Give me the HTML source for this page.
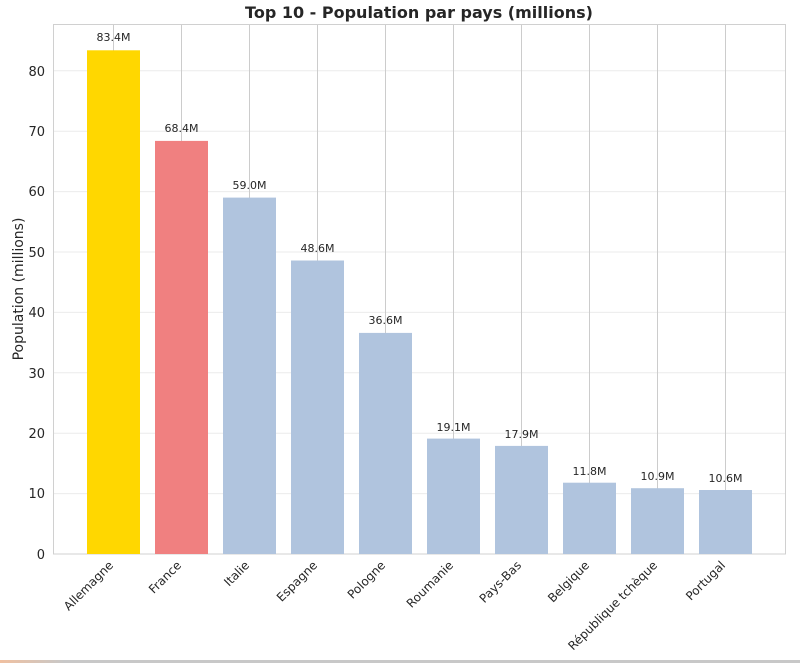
<!DOCTYPE html>
<html><head><meta charset="utf-8"><style>body{margin:0;background:#fff}svg{display:block}text{font-family:"DejaVu Sans","Liberation Sans",sans-serif}</style></head>
<body>
<svg width="800" height="663" xmlns="http://www.w3.org/2000/svg">
<rect width="800" height="663" fill="#fff"/>
<g stroke="#ebebeb" stroke-width="1">
<line x1="53" x2="786" y1="493.6" y2="493.6"/><line x1="53" x2="786" y1="433.2" y2="433.2"/><line x1="53" x2="786" y1="372.8" y2="372.8"/><line x1="53" x2="786" y1="312.4" y2="312.4"/><line x1="53" x2="786" y1="252" y2="252"/><line x1="53" x2="786" y1="191.6" y2="191.6"/><line x1="53" x2="786" y1="131.2" y2="131.2"/><line x1="53" x2="786" y1="70.8" y2="70.8"/>
</g>
<g stroke="#cccccc" stroke-width="1">
<line x1="113.5" x2="113.5" y1="24" y2="554"/><line x1="181.5" x2="181.5" y1="24" y2="554"/><line x1="249.5" x2="249.5" y1="24" y2="554"/><line x1="317.5" x2="317.5" y1="24" y2="554"/><line x1="385.5" x2="385.5" y1="24" y2="554"/><line x1="453.5" x2="453.5" y1="24" y2="554"/><line x1="521.5" x2="521.5" y1="24" y2="554"/><line x1="589.5" x2="589.5" y1="24" y2="554"/><line x1="657.5" x2="657.5" y1="24" y2="554"/><line x1="725.5" x2="725.5" y1="24" y2="554"/>
</g>
<rect x="53.5" y="24.5" width="732" height="529.5" fill="none" stroke="#d0d0d0"/>
<g>
<rect x="87" y="50.3" width="53" height="503.7" fill="#FFD700"/>
<rect x="155" y="140.9" width="53" height="413.1" fill="#F08080"/>
<rect x="223" y="197.6" width="53" height="356.4" fill="#B0C4DE"/>
<rect x="291" y="260.5" width="53" height="293.5" fill="#B0C4DE"/>
<rect x="359" y="332.9" width="53" height="221.1" fill="#B0C4DE"/>
<rect x="427" y="438.6" width="53" height="115.4" fill="#B0C4DE"/>
<rect x="495" y="445.9" width="53" height="108.1" fill="#B0C4DE"/>
<rect x="563" y="482.7" width="53" height="71.3" fill="#B0C4DE"/>
<rect x="631" y="488.2" width="53" height="65.8" fill="#B0C4DE"/>
<rect x="699" y="490" width="53" height="64" fill="#B0C4DE"/>
</g>
<g font-size="11" fill="#262626" text-anchor="middle">
<text x="113.5" y="41">83.4M</text><text x="181.5" y="132">68.4M</text><text x="249.5" y="189">59.0M</text><text x="317.5" y="252">48.6M</text><text x="385.5" y="324">36.6M</text><text x="453.5" y="431">19.1M</text><text x="521.5" y="438">17.9M</text><text x="589.5" y="475">11.8M</text><text x="657.5" y="480">10.9M</text><text x="725.5" y="482">10.6M</text>
</g>
<g font-size="13" fill="#262626" text-anchor="end">
<text x="45" y="559">0</text><text x="45" y="498">10</text><text x="45" y="438">20</text><text x="45" y="378">30</text><text x="45" y="317">40</text><text x="45" y="257">50</text><text x="45" y="196">60</text><text x="45" y="136">70</text><text x="45" y="76">80</text>
</g>
<text transform="translate(23,289) rotate(-90)" font-size="14" fill="#262626" text-anchor="middle">Population (millions)</text>
<text x="419" y="18" font-size="16" font-weight="bold" fill="#262626" text-anchor="middle">Top 10 - Population par pays (millions)</text>
<g font-size="12" fill="#262626" text-anchor="end">
<text transform="translate(114,566) rotate(-45)">Allemagne</text>
<text transform="translate(182,566) rotate(-45)">France</text>
<text transform="translate(250,566) rotate(-45)">Italie</text>
<text transform="translate(318,566) rotate(-45)">Espagne</text>
<text transform="translate(386,566) rotate(-45)">Pologne</text>
<text transform="translate(454,566) rotate(-45)">Roumanie</text>
<text transform="translate(522,566) rotate(-45)">Pays-Bas</text>
<text transform="translate(590,566) rotate(-45)">Belgique</text>
<text transform="translate(658,566) rotate(-45)">République tchèque</text>
<text transform="translate(726,566) rotate(-45)">Portugal</text>
</g>
<defs><linearGradient id="g" x1="0" x2="1"><stop offset="0" stop-color="#f0c0a0"/><stop offset="0.08" stop-color="#c8c8c8"/><stop offset="1" stop-color="#c8c8c8"/></linearGradient></defs>
<rect x="0" y="660" width="800" height="3" fill="url(#g)"/>
</svg>
</body></html>
